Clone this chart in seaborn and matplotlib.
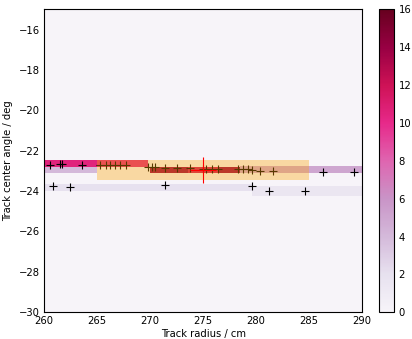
import numpy as np
import matplotlib
matplotlib.use("Agg")
import matplotlib.pyplot as plt
from matplotlib.patches import Rectangle
import seaborn as sns

# Histogram bands of the accumulator: radius range, angle range, count
band_r0 = [260.0, 260.0, 270.0, 273.6, 276.4, 278.5, 260.0, 279.6]
band_r1 = [269.8, 265.0, 273.6, 276.4, 278.5, 290.0, 279.6, 290.0]
band_lo = [-22.79, -23.11, -23.08, -23.08, -23.08, -23.10, -23.98, -24.22]
band_hi = [-22.47, -22.79, -22.80, -22.80, -22.80, -22.75, -23.66, -23.73]
band_count = [10.5, 4, 14, 12, 14, 5, 2, 1.5]

# Individual track candidates
track_r = [260.6, 261.5, 261.7, 263.6,
           265.3, 265.8, 266.2, 266.7, 267.2, 267.7,
           269.8, 270.2, 270.5, 271.4, 272.5, 273.8,
           275.0, 275.3, 275.8, 276.4,
           278.3, 278.8, 279.2, 279.6, 280.4, 281.6, 286.3, 289.2,
           260.8, 262.4, 271.4, 279.6, 281.2, 284.6]
track_a = [-22.69, -22.66, -22.68, -22.69,
           -22.72, -22.72, -22.71, -22.71, -22.72, -22.73,
           -22.78, -22.80, -22.82, -22.83, -22.84, -22.86,
           -22.92, -22.89, -22.88, -22.90,
           -22.90, -22.88, -22.90, -22.93, -23.02, -23.02, -23.07, -23.07,
           -23.73, -23.80, -23.68, -23.77, -23.97, -24.01]

# Selected region and best estimate
roi_r = (265.0, 285.0)
roi_a = (-23.47, -22.45)
best_r, best_a = 275.0, -22.97
best_r_err, best_a_err = 1.2, 0.65

x_lim = (260, 290)
y_lim = (-30, -15)

sns.set_style("ticks", {"xtick.direction": "in", "ytick.direction": "in",
                        "text.color": "black", "axes.labelcolor": "black",
                        "xtick.color": "black", "ytick.color": "black",
                        "axes.edgecolor": "black"})
plt.rcParams["font.family"] = ["DejaVu Sans"]
plt.rcParams["font.size"] = 7.2
plt.rcParams["xtick.top"] = True
plt.rcParams["ytick.right"] = True

# Build a (non-uniform) grid from the band boundaries
xe = np.array(sorted(set(list(x_lim) + band_r0 + band_r1)))
ye = np.array(sorted(set(list(y_lim) + band_lo + band_hi)))
xc = 0.5 * (xe[:-1] + xe[1:])
yc = 0.5 * (ye[:-1] + ye[1:])
XC, YC = np.meshgrid(xc, yc, indexing="ij")
W = np.zeros_like(XC)
for r0, r1, lo, hi, c in zip(band_r0, band_r1, band_lo, band_hi, band_count):
    sel = (XC > r0) & (XC < r1) & (YC > lo) & (YC < hi)
    W[sel] = c

fig = plt.figure(figsize=(4.12, 3.39), dpi=100)
ax = fig.add_axes([0.107, 0.079, 0.772, 0.893])
cax = fig.add_axes([0.920, 0.079, 0.037, 0.893])

sns.histplot(x=XC.ravel(), y=YC.ravel(), weights=W.ravel(), bins=(xe, ye),
             thresh=None, cmap="PuRd", vmin=0, vmax=16, cbar=True,
             cbar_ax=cax, ax=ax)

sns.scatterplot(x=track_r, y=track_a, marker="+", s=32, color="black",
                linewidth=0.8, ax=ax, zorder=2)

ax.add_patch(Rectangle((roi_r[0], roi_a[0]), roi_r[1] - roi_r[0],
                       roi_a[1] - roi_a[0], facecolor="orange", alpha=0.35,
                       linewidth=0, zorder=3))
ax.errorbar(best_r, best_a, xerr=best_r_err, yerr=best_a_err, fmt="none",
            ecolor="red", elinewidth=0.8, capsize=0, zorder=4)

ax.set_xlim(*x_lim)
ax.set_ylim(*y_lim)
ax.set_xticks(np.arange(260, 291, 5))
ax.set_yticks(np.arange(-30, -15, 2))
ax.set_xlabel("Track radius / cm", labelpad=2)
ax.set_ylabel("Track center angle / deg", labelpad=4)
for s in ax.spines.values():
    s.set_visible(True)
    s.set_linewidth(0.8)
ax.tick_params(length=3, width=0.6, pad=3, colors="black")

cax.set_yticks(np.arange(0, 17, 2))
cax.tick_params(direction="in", length=3, width=0.6, pad=3, colors="black")
for s in cax.spines.values():
    s.set_linewidth(0.8)

fig.savefig("out.png", dpi=100)
